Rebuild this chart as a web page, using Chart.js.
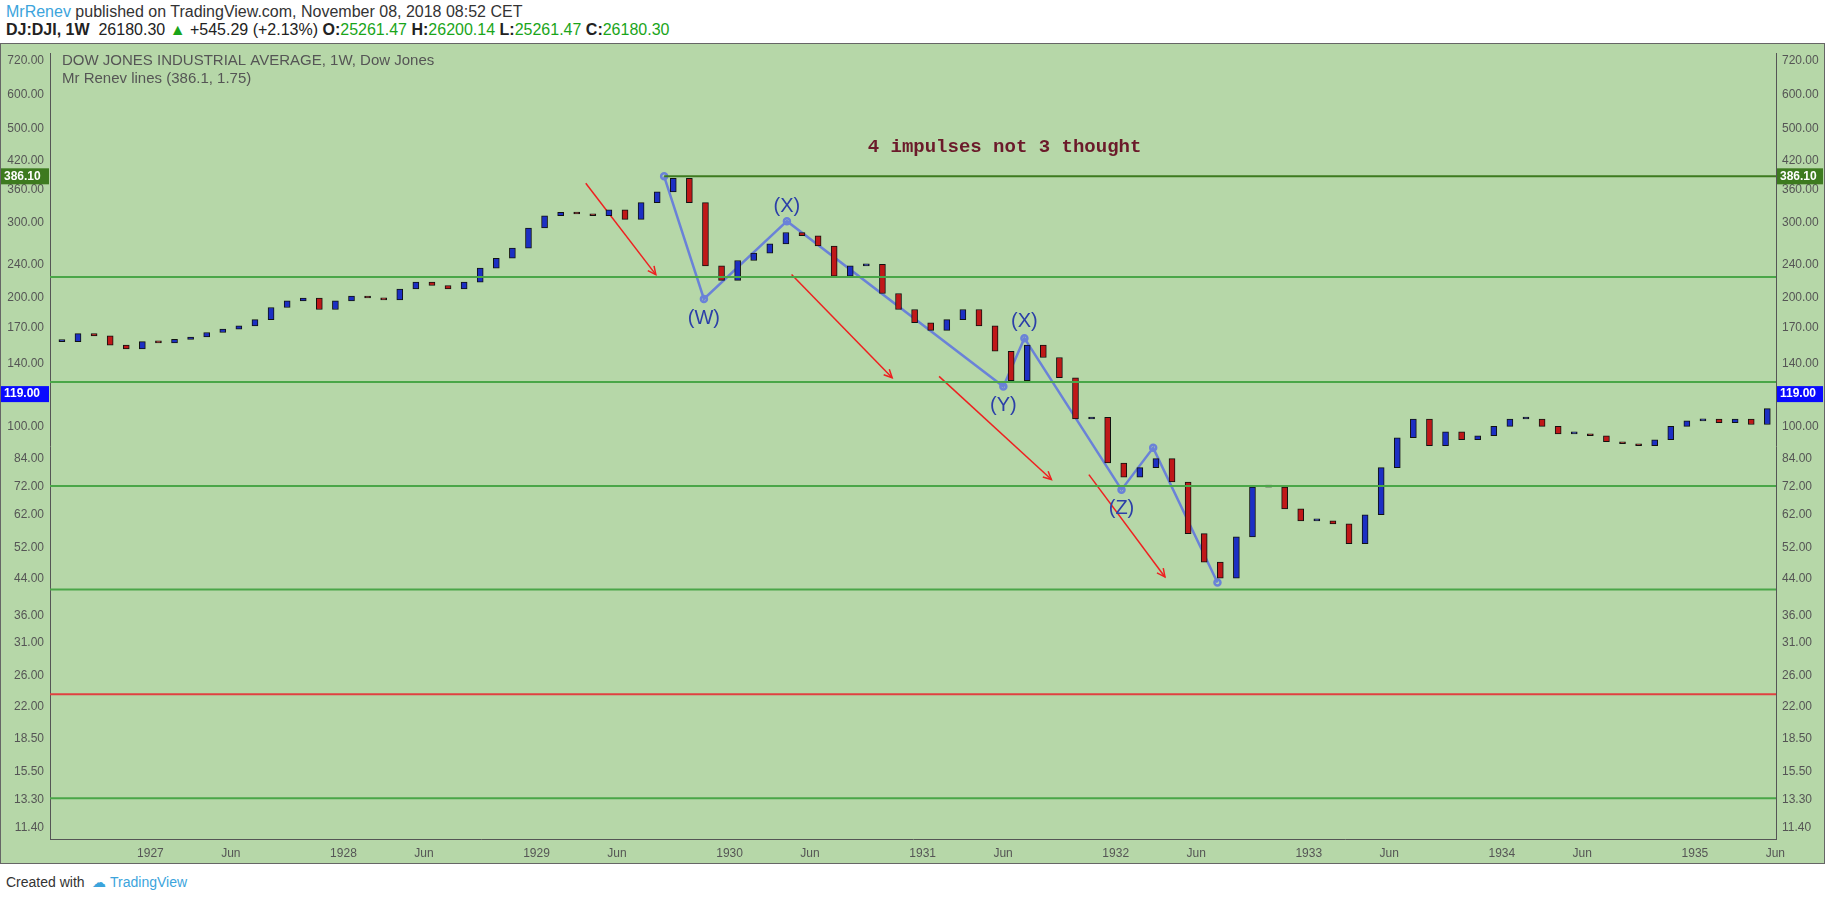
<!DOCTYPE html>
<html><head><meta charset="utf-8">
<script src="https://cdn.jsdelivr.net/npm/chart.js@4"></script>
<style>
body{margin:0;width:1828px;height:900px;background:#fff;font-family:"Liberation Sans",Arial,sans-serif;position:relative;overflow:hidden}
#h1{position:absolute;left:6px;top:3px;font-size:16px;color:#333}
#h2{position:absolute;left:6px;top:21px;font-size:16px;color:#222}
#box{position:absolute;left:0;top:43px;width:1825px;height:821px;background:#b6d7a8;border:1px solid #666;box-sizing:border-box}
#foot{position:absolute;left:6px;top:874px;font-size:14px;color:#333}
.g{color:#1aa51a}
</style></head><body>
<div id="h1"><span style="color:#3ca4dc">MrRenev</span> published on TradingView.com, November 08, 2018 08:52 CET</div>
<div id="h2"><b>DJ:DJI, 1W</b>&nbsp; 26180.30 <span class="g">&#9650;</span> +545.29 (+2.13%) <b>O:</b><span class="g">25261.47</span> <b>H:</b><span class="g">26200.14</span> <b>L:</b><span class="g">25261.47</span> <b>C:</b><span class="g">26180.30</span></div>
<div id="box"><canvas id="c"></canvas></div>
<div id="foot">Created with &nbsp;<span style="color:#3ca4dc">&#9729; TradingView</span></div>
<script>
// --- data: monthly closes from Jul 1926 ---
const startYear = 1926, startMonth = 7;
const closes = [158,165,163,155,152,158, 157,160,162,166,169,172, 178,190,197,200,188,197,
  202,200,198,210,218,214, 210,218,235,248,262,292, 312,318,315,312,322,306,
  335,355,382,335,238,220, 245,255,268,285,280,265, 225,238,240,205,188,175,
  168,178,188,172,150,128, 155,145,130,104,105,82, 76,80,84,74,56,48,
  44,55,72,72,64,60, 60,59,53,62,80,94, 104,90,97,93,95,100,
  104,104,100,96,96,95, 92,91,90,93,100,103, 104,102,104,101,110,116];
const yTicks = [720,600,500,420,360,300,240,200,170,140,100,84,72,62,52,44,36,31,26,22,18.5,15.5,13.3,11.4];
const greenLevels = [224,127,72.4,41.4,13.4];
const redLevel = 23.5;
const peakLevel = 386.1;
const waveX = [1929.661,1929.867,1930.297,1931.418,1931.527,1932.030,1932.194,1932.527];
const waveY = [386,199,303,124,161,71,89,43];
const arrows = [[1929.255,372,1929.618,227],[1930.321,227,1930.842,130],[1931.085,131,1931.667,75],[1931.861,77,1932.255,44.3]];
const waveLabels = [['(W)',1929.867,179],['(X)',1930.297,328],['(Y)',1931.418,112],['(X)',1931.527,176],['(Z)',1932.030,64]];
const X_MIN = 1926.48, X_MAX = 1935.42;

const bodies = closes.map((c, i) => {
  const o = i ? closes[i - 1] : c;
  return { x: startYear + (startMonth - 1 + i + 0.5) / 12, y: [o, c] };
});

const hline = (v, x0 = X_MIN, x1 = X_MAX) => [{ x: x0, y: v }, { x: x1, y: v }];
const lineDs = (data, color, w) => ({ type: 'line', data, borderColor: color, borderWidth: w, pointRadius: 0, fill: false, yAxisID: 'y' });

const datasets = [];
greenLevels.forEach(v => datasets.push(lineDs(hline(v), '#4aa648', 2)));
datasets.push(lineDs(hline(redLevel), '#e04040', 2));
datasets.push(lineDs(hline(peakLevel, 1929.661), '#3d7a1f', 2));
datasets.push({
  type: 'bar', data: bodies, barThickness: 6, grouped: false, yAxisID: 'y', minBarLength: 2,
  backgroundColor: bodies.map(b => b.y[1] >= b.y[0] ? '#1c2fc4' : '#c01818'),
  borderColor: '#111', borderWidth: 1, borderSkipped: false
});
datasets.push(Object.assign(lineDs(waveX.map((x, i) => ({ x, y: waveY[i] })), '#6a82d8', 2.5),
  { pointRadius: 3, pointBackgroundColor: 'rgba(0,0,0,0)', pointBorderColor: '#6a82d8' }));
arrows.forEach(a => datasets.push(lineDs([{ x: a[0], y: a[1] }, { x: a[2], y: a[3] }], '#ee2020', 1.5)));

const yAxis = (pos) => ({
  type: 'logarithmic', position: pos, min: 10.75, max: 751,
  grid: { display: false, drawTicks: true, tickLength: 4, tickColor: '#555' },
  border: { color: '#555' },
  afterBuildTicks: s => { s.ticks = yTicks.map(v => ({ value: v })); },
  afterFit: s => { s.width = pos === 'left' ? 49 : 48; },
  ticks: { color: '#555', font: { size: 12, family: 'Liberation Sans' }, callback: v => Number(v).toFixed(2), autoSkip: false, padding: 2 }
});

const overlay = {
  id: 'overlay',
  afterDatasetsDraw(chart) {
    const { ctx, scales: { x, y } } = chart;
    ctx.save();
    // arrow heads
    arrows.forEach(a => {
      const x1 = x.getPixelForValue(a[2]), y1 = y.getPixelForValue(a[3]);
      const ang = Math.atan2(y1 - y.getPixelForValue(a[1]), x1 - x.getPixelForValue(a[0]));
      ctx.strokeStyle = '#ee2020'; ctx.lineWidth = 1.5;
      ctx.beginPath();
      ctx.moveTo(x1 - 9 * Math.cos(ang - 0.45), y1 - 9 * Math.sin(ang - 0.45));
      ctx.lineTo(x1, y1);
      ctx.lineTo(x1 - 9 * Math.cos(ang + 0.45), y1 - 9 * Math.sin(ang + 0.45));
      ctx.stroke();
    });
    ctx.textAlign = 'center'; ctx.textBaseline = 'middle';
    ctx.fillStyle = '#2b3fa8'; ctx.font = '20px "Liberation Sans"';
    waveLabels.forEach(l => ctx.fillText(l[0], x.getPixelForValue(l[1]), y.getPixelForValue(l[2])));
    ctx.fillStyle = '#6b1a2a'; ctx.font = 'bold 19px "Liberation Mono"';
    ctx.fillText('4 impulses not 3 thought', x.getPixelForValue(1931.424), y.getPixelForValue(452));
    // title
    ctx.textAlign = 'left';
    ctx.fillStyle = '#555'; ctx.font = '15px "Liberation Sans"';
    ctx.fillText('DOW JONES INDUSTRIAL AVERAGE, 1W, Dow Jones', 61, 17);
    ctx.fillText('Mr Renev lines (386.1, 1.75)', 61, 35);
    // price labels
    [[peakLevel, '#3d7a1f'], [119, '#0a0aff']].forEach(([v, col]) => {
      const py = y.getPixelForValue(v);
      ctx.font = 'bold 12px "Liberation Sans"';
      [[0, 48], [chart.chartArea.right + 1, 46]].forEach(([lx, w]) => {
        ctx.fillStyle = col; ctx.fillRect(lx, py - 8, w, 16);
        ctx.fillStyle = '#fff'; ctx.fillText(v.toFixed(2), lx + 3, py);
      });
    });
    ctx.restore();
  }
};

new Chart(document.getElementById('c'), {
  type: 'bar',
  data: { datasets },
  plugins: [overlay],
  options: {
    responsive: true, maintainAspectRatio: false, animation: false,
    plugins: { legend: { display: false }, tooltip: { enabled: false } },
    scales: {
      x: {
        type: 'linear', min: X_MIN, max: X_MAX, offset: false,
        grid: { display: false, tickLength: 4, tickColor: '#555' }, border: { color: '#555' },
        afterBuildTicks: s => {
          const t = [];
          for (let yr = 1927; yr <= 1935; yr++) { t.push({ value: yr }); t.push({ value: yr + 5 / 12 }); }
          s.ticks = t.filter(k => k.value <= X_MAX);
        },
        afterFit: s => { s.height = 24; },
        ticks: { color: '#555', font: { size: 12, family: 'Liberation Sans' }, autoSkip: false, maxRotation: 0,
          callback: v => Math.abs(v - Math.round(v)) < 1e-6 ? String(Math.round(v)) : 'Jun' }
      },
      y: yAxis('left'),
      y2: yAxis('right')
    }
  }
});
</script>
</body></html>
